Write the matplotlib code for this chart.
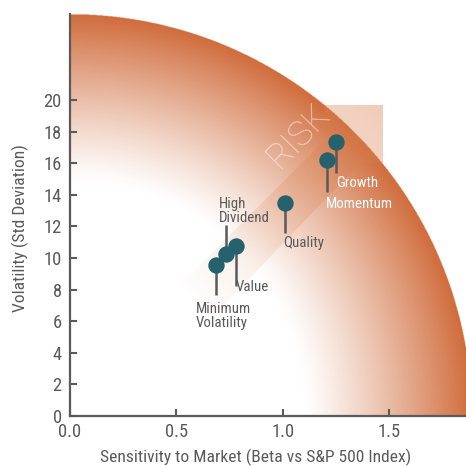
import numpy as np
import matplotlib
matplotlib.use('Agg')
import matplotlib.pyplot as plt
from matplotlib.patches import Polygon
from matplotlib import font_manager

# ---------------- data ----------------
factor_labels = ['Value', 'High\nDividend', 'Minimum\nVolatility', 'Quality', 'Growth', 'Momentum']
beta = [0.782, 0.733, 0.686, 1.010, 1.249, 1.207]
volatility = [10.75, 10.25, 9.56, 13.50, 17.35, 16.20]
x_ticks = [0.0, 0.5, 1.0, 1.5]
x_ticklabels = ['0.0', '0.5', '1.0', '1.5']
y_ticks = [0, 2, 4, 6, 8, 10, 12, 14, 16, 18, 20]
y_ticklabels = ['0', '2', '4', '6', '8', '10', '12', '14', '16', '18', '20']

# ---------------- styling ----------------
names = {f.name for f in font_manager.fontManager.ttflist}
fam = [f for f in ['Liberation Sans Narrow', 'Roboto Condensed', 'Open Sans', 'DejaVu Sans'] if f in names]
plt.rcParams['font.family'] = fam
GRAY = '#5a5a5a'
TEAL = '#26626e'
ORANGE = np.array([208, 108, 60]) / 255.0
BAND = np.array([217, 128, 79]) / 255.0

XMAX, YMAX = 1.86, 25.44
XR, YR = 1.888, 25.44  # quarter-circle radii in data units

fig = plt.figure(figsize=(4.66, 4.66), dpi=100)
ax = fig.add_axes([70 / 466, 50 / 466, 396 / 466, 402 / 466])
ax.set_xlim(0, XMAX)
ax.set_ylim(0, YMAX)

# radial gradient quarter circle
n = 900
gx = np.linspace(0, XMAX, n)
gy = np.linspace(0, YMAX, n)
GX, GY = np.meshgrid(gx, gy)
R = np.sqrt((GX / XR) ** 2 + (GY / YR) ** 2)
t = np.clip((R - 0.585) / (1 - 0.585), 0, 1) ** 1.15
img = np.ones((n, n, 3))
for c in range(3):
    img[..., c] = 1 - t * (1 - ORANGE[c])
img[R > 1] = 1.0
ax.imshow(img, extent=[0, XMAX, 0, YMAX], origin='lower', aspect='auto',
          zorder=0, interpolation='bilinear')

# RISK band (pixel outline converted to data coords), fading toward lower-left
def px(xp, yp):
    return ((xp - 70) / 212.9, (416 - yp) / 15.8)

band = [px(172, 293), px(325, 140), px(325, 105), px(383, 105), px(383, 163),
        px(360, 163), px(205, 325)]
PXX = 70 + GX * 212.9
PXY = 416 - GY * 15.8
s = ((PXX - 180) + (290 - PXY)) / ((383 - 180) + (290 - 105))
s = np.clip(s, 0, 1)
band_img = np.zeros((n, n, 4))
band_img[..., :3] = BAND
band_img[..., 3] = 0.40 * s ** 0.9
bim = ax.imshow(band_img, extent=[0, XMAX, 0, YMAX], origin='lower', aspect='auto',
                zorder=1, interpolation='bilinear')
poly = Polygon(band, closed=True, facecolor='none', edgecolor='none',
               transform=ax.transData)
ax.add_patch(poly)
bim.set_clip_path(poly)

rx, ry = px(299, 136)
ax.text(rx, ry, 'RISK', rotation=46, rotation_mode='anchor', ha='center', va='center',
        fontsize=25, color='white', alpha=0.6, family=['Roboto', 'DejaVu Sans'],
        fontweight='light', zorder=2)

# sticks + pins
stick = [-2.5, 1.85, -1.9, -1.9, -2.0, -2.0]
for b, v, sk in zip(beta, volatility, stick):
    ax.plot([b, b], [v, v + sk], color=GRAY, lw=1.8, solid_capstyle='butt', zorder=3)
for b, v in zip(beta, volatility):
    ax.plot(b, v, 'o', ms=11.8, color=TEAL, mec='none', zorder=4)

# labels
label_style = {
    'Value': dict(off=(-1, -41), va='center', color=GRAY),
    'High\nDividend': dict(off=(-7, 57), va='top', color=GRAY),
    'Minimum\nVolatility': dict(off=(-20, -37), va='top', color=GRAY),
    'Quality': dict(off=(-2, -40), va='center', color=GRAY),
    'Growth': dict(off=(0, -41), va='center', color='white'),
    'Momentum': dict(off=(-1, -44), va='center', color='white'),
}
for lab, b, v in zip(factor_labels, beta, volatility):
    st = label_style[lab]
    ax.annotate(lab, (b, v), xytext=st['off'], textcoords='offset pixels',
                ha='left', va=st['va'], fontsize=10.7, color=st['color'],
                linespacing=1.0, zorder=5)

# axes
for sp in ['top', 'right']:
    ax.spines[sp].set_visible(False)
for sp in ['left', 'bottom']:
    ax.spines[sp].set_color(GRAY)
    ax.spines[sp].set_linewidth(1.6)
    ax.spines[sp].set_zorder(6)
ax.set_xticks(x_ticks)
ax.set_xticklabels(x_ticklabels)
ax.set_yticks(y_ticks)
ax.set_yticklabels(y_ticklabels)
ax.tick_params(direction='in', length=5, width=1.5, color=GRAY, labelcolor=GRAY,
               labelsize=13.3)
ax.tick_params(axis='x', pad=5)
ax.tick_params(axis='y', pad=6)

fig.text(256 / 466, 1 - 457 / 466, 'Sensitivity to Market (Beta vs S&P 500 Index)',
         ha='center', va='center', fontsize=12.6, color=GRAY)
fig.text(20 / 466, 1 - 228 / 466, 'Volatility (Std Deviation)', rotation=90,
         ha='center', va='center', fontsize=12.6, color=GRAY)

fig.savefig('out.png', dpi=100)
